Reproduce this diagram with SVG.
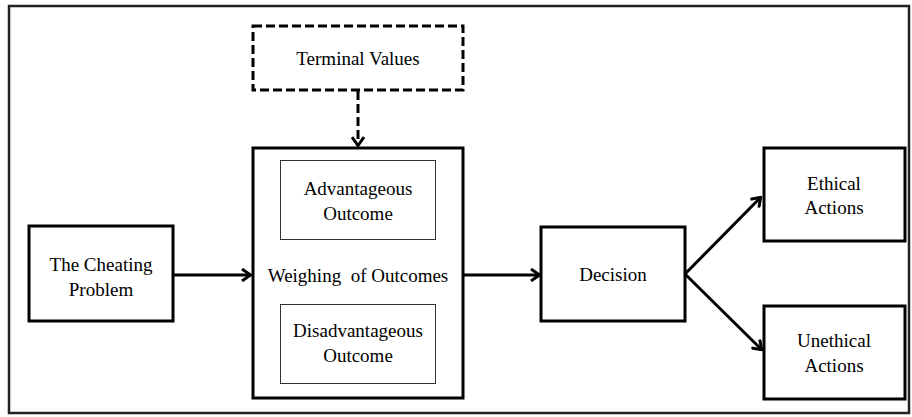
<svg xmlns="http://www.w3.org/2000/svg" width="912" height="417" viewBox="0 0 912 417">
<style>
.box{fill:#fff;stroke:#000;stroke-width:3}
.inner{fill:#fff;stroke:#333;stroke-width:1}
.dash{fill:#fff;stroke:#000;stroke-width:3;stroke-dasharray:9 4}
.t{font-family:"Liberation Serif","Times New Roman",serif;font-size:19px;fill:#000;text-anchor:middle}
.c{fill:none;stroke:#000;stroke-width:3}
</style>
<defs>
<marker id="ah" viewBox="0 0 12 14" refX="11" refY="7" markerWidth="12" markerHeight="14" markerUnits="userSpaceOnUse" orient="auto">
<path d="M2,1 L10.5,7 L2,13" fill="none" stroke="#000" stroke-width="3"/>
</marker>
</defs>
<rect x="9" y="6" width="900" height="407" fill="#fff" stroke="#222" stroke-width="2.5"/>
<g id="connectors">
<line class="c" x1="358" y1="91" x2="358" y2="146" stroke-dasharray="9 4" marker-end="url(#ah)"/>
<line class="c" x1="173" y1="275" x2="251" y2="275" marker-end="url(#ah)"/>
<line class="c" x1="463" y1="275" x2="540" y2="275" marker-end="url(#ah)"/>
<line class="c" x1="685" y1="274" x2="761" y2="197" marker-end="url(#ah)"/>
<line class="c" x1="685" y1="274" x2="762" y2="350" marker-end="url(#ah)"/>
</g>
<g id="terminal-values">
<rect class="dash" x="253" y="26" width="210" height="64"/>
<text class="t" x="358" y="65">Terminal Values</text>
</g>
<g id="weighing">
<rect class="box" x="253" y="148" width="210" height="250"/>
<text class="t" x="358" y="282" xml:space="preserve">Weighing  of Outcomes</text>
</g>
<g id="advantageous">
<rect class="inner" x="280.5" y="160.5" width="155" height="79"/>
<text class="t" x="358" y="195">Advantageous</text>
<text class="t" x="358" y="220">Outcome</text>
</g>
<g id="disadvantageous">
<rect class="inner" x="280.5" y="304.5" width="155" height="79"/>
<text class="t" x="358" y="337">Disadvantageous</text>
<text class="t" x="358" y="362">Outcome</text>
</g>
<g id="cheating">
<rect class="box" x="29" y="226" width="144" height="95"/>
<text class="t" x="101" y="271">The Cheating</text>
<text class="t" x="101" y="296">Problem</text>
</g>
<g id="decision">
<rect class="box" x="541" y="227" width="144" height="94"/>
<text class="t" x="613" y="281">Decision</text>
</g>
<g id="ethical">
<rect class="box" x="764" y="148" width="141" height="93"/>
<text class="t" x="834" y="190">Ethical</text>
<text class="t" x="834" y="214">Actions</text>
</g>
<g id="unethical">
<rect class="box" x="764" y="306" width="141" height="93"/>
<text class="t" x="834" y="347">Unethical</text>
<text class="t" x="834" y="372">Actions</text>
</g>
</svg>
